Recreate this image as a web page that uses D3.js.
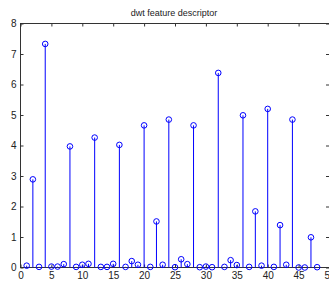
<!DOCTYPE html>
<html>
<head>
<meta charset="utf-8">
<script src="https://cdn.jsdelivr.net/npm/d3@7"></script>
<style>
  body { margin: 0; background: #fff; }
  svg { display: block; }
  text { font-family: "Liberation Sans", Arial, sans-serif; fill: #222; }
</style>
</head>
<body>
<svg width="329" height="282"></svg>
<script>
// stem data
var xs = d3.range(1, 49);
var values = [0.06, 2.89, 0.02, 7.33, 0.03, 0.03, 0.11, 3.97, 0.02, 0.09,
              0.12, 4.26, 0.02, 0.02, 0.12, 4.02, 0.02, 0.21, 0.09, 4.66,
              0.02, 1.51, 0.09, 4.85, 0.01, 0.27, 0.11, 4.66, 0.01, 0.03,
              0.01, 6.38, 0.02, 0.24, 0.08, 4.99, 0.02, 1.84, 0.06, 5.2,
              0.02, 1.39, 0.09, 4.85, 0.0, 0.0, 0.99, 0.01];
var xTicks = [0, 5, 10, 15, 20, 25, 30, 35, 40, 45, 50];
var yTicks = [0, 1, 2, 3, 4, 5, 6, 7, 8];
var title = "dwt feature descriptor";

function draw() {
    var svg = d3.select('svg');
    var plotL = 20.5, plotR = 329.5, plotT = 23.5, plotB = 267.5;

    var x = d3.scaleLinear().domain([0, 50]).range([plotL, plotR]);
    var y = d3.scaleLinear().domain([0, 8]).range([plotB, plotT]);

    // frame
    svg.append('rect')
        .attr('x', plotL).attr('y', plotT)
        .attr('width', plotR - plotL).attr('height', plotB - plotT)
        .attr('fill', 'none').attr('stroke', '#333').attr('stroke-width', 1);

    // axes with inward ticks
    var gx = svg.append('g').attr('transform', 'translate(0,' + plotB + ')')
        .call(d3.axisBottom(x).tickValues(xTicks).tickSize(-3).tickPadding(4));
    var gy = svg.append('g').attr('transform', 'translate(' + plotL + ',0)')
        .call(d3.axisLeft(y).tickValues(yTicks).tickSize(-3).tickPadding(4));
    svg.append('g').attr('transform', 'translate(0,' + plotT + ')')
        .call(d3.axisTop(x).tickValues(xTicks).tickSize(-3).tickFormat(''));
    svg.append('g').attr('transform', 'translate(' + (plotR - 0.5) + ',0)')
        .call(d3.axisRight(y).tickValues(yTicks).tickSize(-3).tickFormat(''));

    svg.selectAll('.domain').remove();
    svg.selectAll('.tick line').attr('stroke', '#333');
    svg.selectAll('.tick text').attr('font-size', 10).attr('fill', '#222')
        .attr('font-family', '"Liberation Sans", Arial, sans-serif');

    // stems
    var data = xs.map(function(d, i) { return [d, values[i]]; });

    svg.selectAll('line.stem')
        .data(data)
        .enter()
        .append('line')
        .attr('class', 'stem')
        .attr('x1', function(d) { return x(d[0]); })
        .attr('x2', function(d) { return x(d[0]); })
        .attr('y1', y(0))
        .attr('y2', function(d) { return y(d[1]); })
        .attr('stroke', '#0000ff')
        .attr('stroke-width', 1);

    svg.selectAll('circle.head')
        .data(data)
        .enter()
        .append('circle')
        .attr('class', 'head')
        .attr('cx', function(d) { return x(d[0]); })
        .attr('cy', function(d) { return y(d[1]); })
        .attr('r', 2.8)
        .attr('fill', 'none')
        .attr('stroke', '#0000ff')
        .attr('stroke-width', 1);

    svg.append('text')
        .attr('x', 174)
        .attr('y', 16)
        .attr('text-anchor', 'middle')
        .attr('font-size', 9)
        .text(title);
}

draw();
</script>
</body>
</html>
